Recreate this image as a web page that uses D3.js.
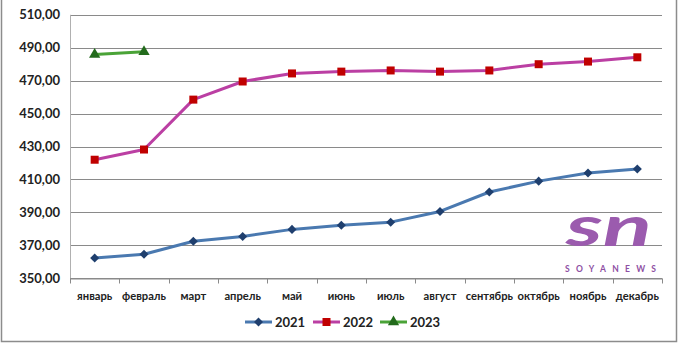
<!DOCTYPE html>
<html><head><meta charset="utf-8">
<script src="https://cdn.jsdelivr.net/npm/d3@7"></script>
<style>
html,body{margin:0;padding:0;background:#fff;}
svg{display:block;}
text{font-family:Lato,"Open Sans",sans-serif;font-weight:bold;}
</style></head>
<body>
<script>
const months = ["январь","февраль","март","апрель","май","июнь","июль","август","сентябрь","октябрь","ноябрь","декабрь"];
const s2021 = [362.3,364.6,372.5,375.4,379.7,382.2,384.1,390.6,402.4,409.0,414.0,416.4];
const s2022 = [422.0,428.2,458.5,469.5,474.4,475.5,476.2,475.5,476.2,480.0,481.6,484.2];
const s2023 = [485.9,487.6];
const yTicks = [350,370,390,410,430,450,470,490,510];
const seriesNames = ["2021","2022","2023"];

const W=678,H=343;
const m={left:70,right:16,top:14.8,bottom:64.7};
const svg=d3.select("body").append("svg").attr("width",W).attr("height",H);
svg.append("rect").attr("width",W).attr("height",H).attr("fill","#fff");
svg.append("path").attr("d",`M1.5,0 V341.5 H676.5 V0`).attr("fill","none").attr("stroke","#8c8c8c").attr("stroke-width",1.5);

const x=d3.scaleBand().domain(months).range([m.left,W-m.right]).padding(0);
const y=d3.scaleLinear().domain([350,510]).range([H-m.bottom,m.top]);

svg.append("g").selectAll("line").data(yTicks).join("line")
 .attr("x1",m.left).attr("x2",W-m.right)
 .attr("y1",d=>Math.round(y(d))+0.5).attr("y2",d=>Math.round(y(d))+0.5)
 .attr("stroke","#8a8a8a").attr("stroke-width",1);
svg.append("line").attr("x1",m.left+0.5).attr("x2",m.left+0.5).attr("y1",m.top).attr("y2",H-m.bottom)
 .attr("stroke","#b0b0b0");

const yAxis=d3.axisLeft(y).tickValues(yTicks).tickSize(0).tickPadding(10)
 .tickFormat(d=>d3.format(".2f")(d).replace(".",","));
const ya=svg.append("g").attr("transform",`translate(${m.left},0)`).call(yAxis);
ya.select(".domain").remove();
ya.selectAll("text").attr("font-size",13).attr("fill","#222").attr("font-family","Lato,sans-serif").attr("font-weight","bold");

const xa=svg.append("g").attr("transform",`translate(0,${Math.round(y(350))+0.5})`)
 .call(d3.axisBottom(x).tickSize(0).tickPadding(14));
xa.select(".domain").attr("stroke","#8a8a8a");
xa.selectAll("text").attr("font-size",11.2).attr("fill","#222").attr("font-family","Lato,sans-serif").attr("font-weight","bold");
const bounds=months.map(d=>x(d)).concat([x(months[months.length-1])+x.bandwidth()]);
xa.append("g").selectAll("line").data(bounds).join("line")
 .attr("x1",d=>Math.round(d)+0.5).attr("x2",d=>Math.round(d)+0.5).attr("y1",0).attr("y2",5)
 .attr("stroke","#8a8a8a");

const logo=svg.append("g");
logo.append("text").attr("x",566).attr("y",246).text("sn")
 .attr("font-family","'Open Sans',sans-serif").attr("font-style","italic").attr("font-weight","normal")
 .attr("font-size",56).attr("fill","#9b5bae").attr("textLength",86).attr("lengthAdjust","spacingAndGlyphs");
logo.append("text").attr("x",565).attr("y",272).text("SOYANEWS")
 .attr("font-family","'DejaVu Sans',sans-serif").attr("font-weight","bold")
 .attr("font-size",8.5).attr("fill","#8e4fa3").attr("letter-spacing",6.3);

const cx=(d,i)=>x(months[i])+x.bandwidth()/2;
const series=[
 {name:"2021",data:s2021,line:"#4a79b0",mark:"#1f3f6e",sym:d3.symbolDiamond2,size:52},
 {name:"2022",data:s2022,line:"#bb3fa3",mark:"#c00000",sym:d3.symbolSquare,size:64},
 {name:"2023",data:s2023,line:"#4aa337",mark:"#236b1c",sym:d3.symbolTriangle,size:55}
];
const line=d3.line().x(cx).y(d=>y(d));
series.forEach(s=>{
 svg.append("path").datum(s.data).attr("d",line).attr("fill","none")
  .attr("stroke",s.line).attr("stroke-width",3).attr("stroke-linejoin","round");
 svg.append("g").selectAll("path").data(s.data).join("path")
  .attr("transform",(d,i)=>`translate(${cx(d,i)},${y(d)})`)
  .attr("d",d3.symbol().type(s.sym).size(s.size)).attr("fill",s.mark);
});

const lx=[245,313,380];
series.forEach((s,i)=>{
 const g=svg.append("g").attr("transform",`translate(${lx[i]},322)`);
 g.append("line").attr("x1",0).attr("x2",27).attr("stroke",s.line).attr("stroke-width",3);
 g.append("path").attr("transform",`translate(13.5,0)`)
  .attr("d",d3.symbol().type(s.sym).size(s.size)).attr("fill",s.mark);
 g.append("text").attr("x",30).attr("y",4.5).text(seriesNames[i]).attr("font-size",13).attr("fill","#222");
});
</script>
</body></html>
